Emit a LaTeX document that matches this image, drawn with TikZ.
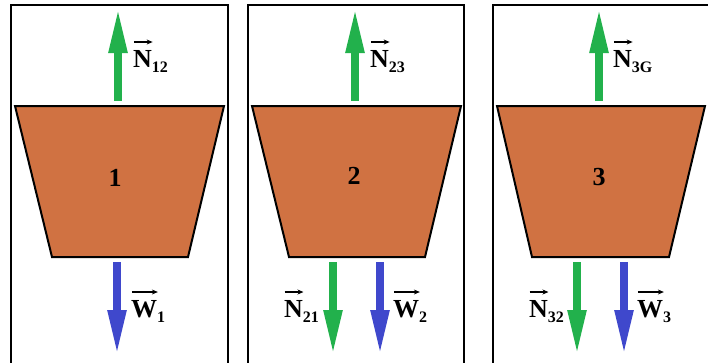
\documentclass[tikz,border=0pt]{standalone}
\usepackage{fontspec}
\setmainfont{Liberation Serif}
\usetikzlibrary{arrows.meta,positioning}
\definecolor{clay}{RGB}{208,114,66}
\definecolor{fgreen}{RGB}{34,177,76}
\definecolor{fblue}{RGB}{63,72,204}
\newcommand{\forcelbl}[2]{\setbox0\hbox{\textbf{#1}}%
	\rlap{\raisebox{25pt}{\tikz[baseline=0pt]\draw[line width=1.3pt, -{Stealth[length=6pt,width=5pt]}]
		(0pt,0pt) -- (\wd0,0pt);}}%
	\box0\raisebox{-0.2em}{\fontsize{16}{16}\selectfont\textbf{#2}}}

\begin{document}
\begin{tikzpicture}[x=1pt, y=-1pt,
	frame/.style={draw, line width=2.8pt},
	body/.style={draw, line width=2pt, fill=clay, line join=miter},
	force/.style={line width=8pt, -{Triangle[length=46pt,width=17pt]}},
	lbl/.style={inner sep=0pt, font=\fontsize{26}{30}\selectfont\bfseries}
]
	\clip (0,0) rectangle (708,362);
	% frames
	\draw[frame] (11,380) -- (11,5) -- (228,5) -- (228,380);
	\draw[frame] (248,380) -- (248,5) -- (464,5) -- (464,380);
	\draw[frame] (493,380) -- (493,5) -- (715,5) -- (715,380);
	% bodies
	\draw[body] (15,106) -- (224,106) -- (188,257) -- (52,257) -- cycle;
	\draw[body] (252,106) -- (461,106) -- (425,257) -- (289,257) -- cycle;
	\draw[body] (497,106) -- (705,106) -- (669,257) -- (532,257) -- cycle;
	\node[lbl] (b1) at (115,178) {1};
	\node[lbl] (b2) at (354,176) {2};
	\node[lbl] (b3) at (599,177) {3};
	% force end points
	\coordinate (u1a) at (118,101); \coordinate (u1b) at (118,7);
	\coordinate (u2a) at (355,101); \coordinate (u2b) at (355,7);
	\coordinate (u3a) at (599,101); \coordinate (u3b) at (599,7);
	\coordinate (w1a) at (117,262); \coordinate (w1b) at (117,356);
	\coordinate (n2a) at (333,262); \coordinate (n2b) at (333,356);
	\coordinate (w2a) at (380,262); \coordinate (w2b) at (380,356);
	\coordinate (n3a) at (577,262); \coordinate (n3b) at (577,356);
	\coordinate (w3a) at (624,262); \coordinate (w3b) at (624,356);
	\draw[force, fgreen] (u1a) -- (u1b);
	\draw[force, fgreen] (u2a) -- (u2b);
	\draw[force, fgreen] (u3a) -- (u3b);
	\draw[force, fblue] (w1a) -- (w1b);
	\draw[force, fgreen] (n2a) -- (n2b);
	\draw[force, fblue] (w2a) -- (w2b);
	\draw[force, fgreen] (n3a) -- (n3b);
	\draw[force, fblue] (w3a) -- (w3b);
	% labels
	\node[lbl, anchor=base west] (n12) at (133,67) {\forcelbl{N}{12}};
	\node[lbl, anchor=base west] (n23) at (370,67) {\forcelbl{N}{23}};
	\node[lbl, anchor=base west] (n3g) at (613,67) {\forcelbl{N}{3G}};
	\node[lbl, anchor=base west] (lw1) at (131,317) {\forcelbl{W}{1}};
	\node[lbl, anchor=base east] (n21) at (319,317) {\forcelbl{N}{21}};
	\node[lbl, anchor=base west] (lw2) at (393,317) {\forcelbl{W}{2}};
	\node[lbl, anchor=base east] (n32) at (564,317) {\forcelbl{N}{32}};
	\node[lbl, anchor=base west] (lw3) at (637,317) {\forcelbl{W}{3}};
\end{tikzpicture}
\end{document}
